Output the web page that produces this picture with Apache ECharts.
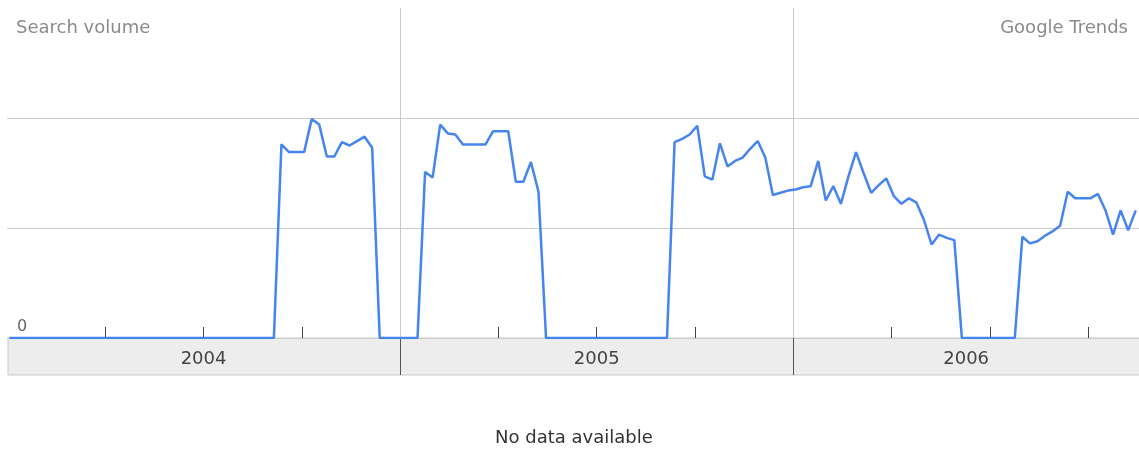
<!DOCTYPE html>
<html>
<head>
<meta charset="utf-8">
<script src="https://cdn.jsdelivr.net/npm/echarts@6/dist/echarts.min.js"></script>
<style>
html,body{margin:0;padding:0;background:#fff;}
#chart{width:1139px;height:452px;}
</style>
</head>
<body>
<div id="chart"></div>
<script>
// Weekly search volume (relative units: gridlines at 1 and 2), one value per week
const volume2004 = [
  0,0,0,0,0,0,0,0,0,0,0,0,0,0,0,0,0,0,0,0,0,0,0,0,0,0,0,0,0,0,0,0,0,0,0,0,
  1.76,1.69,1.69,1.69,1.99,1.94,1.65,1.65,1.78,1.75,1.79,1.83,1.73,
  0,0,0
];
const volume2005 = [
  0,0,0,
  1.51,1.46,1.94,1.86,1.85,1.76,1.76,1.76,1.76,1.88,1.88,1.88,1.42,1.42,1.60,1.33,
  0,0,0,0,0,0,0,0,0,0,0,0,0,0,0,0,0,
  1.78,1.81,1.85,1.93,1.47,1.44,1.77,1.56,1.61,1.64,1.72,1.79,1.64,1.30,1.32,1.34
];
const volume2006 = [
  1.35,1.37,1.38,1.61,1.25,1.38,1.22,1.47,1.69,1.50,1.32,1.39,1.45,1.29,1.22,1.27,1.23,1.07,0.85,0.94,0.91,0.89,
  0,0,0,0,0,0,0,0,
  0.92,0.86,0.88,0.93,0.97,1.02,1.33,1.27,1.27,1.27,1.31,1.16,0.94,1.16,0.98,1.16
];
const yearLabels = ['2004', '2005', '2006'];
// week offset (from the first weekly point) at which each year begins; 52 weeks per year, 13 per quarter
const yearStartWeeks = [-0.3, 51.7, 103.7];
const lastVisibleWeek = 149.43;
const weeksPerQuarter = 13;

const volume = volume2004.concat(volume2005, volume2006);
const seriesData = volume.map((v, i) => [i, v]);

const quarterTicks = [];
yearStartWeeks.forEach(s => {
  for (let q = 0; q < 4; q++) {
    const w = s + q * weeksPerQuarter;
    if (w > yearStartWeeks[0] + 1 && w < lastVisibleWeek) quarterTicks.push(w);
  }
});
const yearBoundaries = yearStartWeeks.slice(1);
const yearCenters = yearStartWeeks.map((s, i) => {
  const e = Math.min(i + 1 < yearStartWeeks.length ? yearStartWeeks[i + 1] : s + 52, lastVisibleWeek);
  return (s + e) / 2;
});
const labelByCenter = {};
yearCenters.forEach((c, i) => { labelByCenter[c.toFixed(3)] = yearLabels[i]; });

const FONT = 'DejaVu Sans';
const chart = echarts.init(document.getElementById('chart'), null, {renderer: 'canvas'});
chart.setOption({
  animation: false,
  backgroundColor: '#ffffff',
  title: [
    {text: 'Search volume', left: 16, top: 19, padding: 0,
     textStyle: {fontFamily: FONT, fontSize: 18, fontWeight: 'normal', color: '#8a8a8a'}},
    {text: 'Google Trends', right: 11, top: 19, padding: 0,
     textStyle: {fontFamily: FONT, fontSize: 18, fontWeight: 'normal', color: '#8a8a8a'}},
    {text: 'No data available', left: 495, top: 429, padding: 0,
     textStyle: {fontFamily: FONT, fontSize: 18, fontWeight: 'normal', color: '#333333'}}
  ],
  graphic: [
    {type: 'rect', z: -10, silent: true,
     shape: {x: 8, y: 338, width: 1140, height: 37},
     style: {fill: '#ededed', stroke: '#c9c9c9', lineWidth: 1}}
  ],
  grid: {left: 7, right: 0, top: 8, bottom: 114, containLabel: false},
  xAxis: [
    {
      type: 'value', min: yearStartWeeks[0], max: lastVisibleWeek, position: 'bottom',
      axisLine: {show: false},
      axisTick: {show: true, inside: true, length: 11, customValues: quarterTicks,
                 lineStyle: {color: '#444', width: 1}},
      axisLabel: {show: false},
      splitLine: {show: false}
    },
    {
      type: 'value', min: yearStartWeeks[0], max: lastVisibleWeek, position: 'bottom',
      axisLine: {show: false},
      axisTick: {show: true, inside: false, length: 37, customValues: yearBoundaries,
                 lineStyle: {color: '#555', width: 1}},
      axisLabel: {show: true, customValues: yearCenters, margin: 12,
                  fontFamily: FONT, fontSize: 18, color: '#444',
                  formatter: v => labelByCenter[Number(v).toFixed(3)] || ''},
      splitLine: {show: false}
    }
  ],
  yAxis: {
    type: 'value', min: 0, max: 3, interval: 1,
    axisLine: {show: false}, axisTick: {show: false},
    axisLabel: {show: true, inside: true, margin: 10, verticalAlign: 'bottom', padding: [0, 0, 3, 0],
                fontFamily: FONT, fontSize: 16, color: '#666',
                formatter: v => (v === 0 ? '0' : '')},
    splitLine: {show: true, lineStyle: {color: ['#cccccc', '#cccccc', '#cccccc', 'rgba(0,0,0,0)'], width: 1}}
  },
  series: [{
    type: 'line', xAxisIndex: 0, data: seriesData, showSymbol: false, symbol: 'none',
    lineStyle: {color: '#4684ee', width: 2.5}, z: 5,
    markLine: {
      silent: true, symbol: 'none', label: {show: false},
      lineStyle: {color: '#c8c8c8', type: 'solid', width: 1},
      data: yearBoundaries.map(w => ({xAxis: w}))
    }
  }]
});
</script>
</body>
</html>
